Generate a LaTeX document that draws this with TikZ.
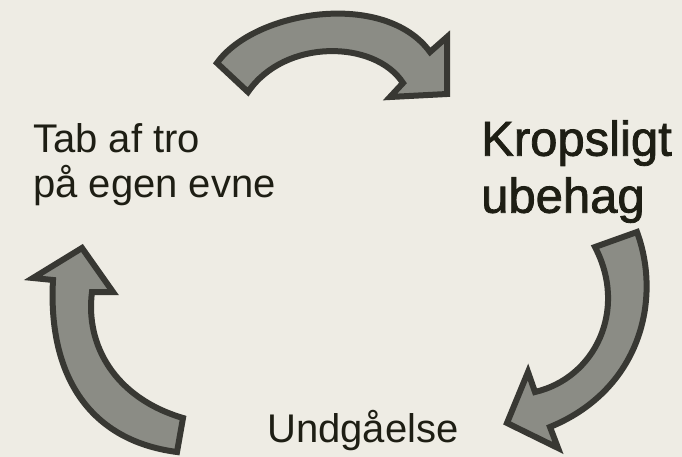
\documentclass[tikz,border=0pt]{standalone}
\usepackage{fontspec}
\setmainfont{Liberation Sans}
\newfontfamily\medfont[FakeBold=1.6]{Liberation Sans}
\definecolor{bgc}{HTML}{EEECE4}
\definecolor{arrfill}{HTML}{8B8C85}
\definecolor{arrline}{HTML}{383833}
\definecolor{txt}{HTML}{1E1E14}
\begin{document}
\begin{tikzpicture}[x=1pt,y=-1pt,
  bigarrow/.style={fill=arrfill,draw=arrline,line width=6pt,line join=miter,miter limit=10},
  lbl/.style={inner sep=0pt,text=txt,align=left}]
\fill[bgc] (0,0) rectangle (682,457);
\useasboundingbox (0,0) rectangle (682,457);
% top arrow
\draw[bigarrow] (217,63) .. controls (255,10) and (385,-10) .. (430,52)
  -- (447,37) -- (447,94) -- (390,97) -- (403,83)
  .. controls (375,40) and (285,38) .. (248,92) -- cycle;
% right arrow
\draw[bigarrow] (637,232) .. controls (662,300) and (640,390) .. (550,427)
  -- (558,448) -- (507,423) -- (528,372) -- (535,392)
  .. controls (595,378) and (628,310) .. (595,247) -- cycle;
% left arrow
\draw[bigarrow] (177,452) .. controls (85,440) and (48,370) .. (53,280)
  -- (33,278) -- (82,248) -- (113,292) -- (92,292)
  .. controls (85,345) and (115,398) .. (183,418) -- cycle;
% labels
\node[lbl,anchor=north west,font=\fontsize{40}{45}\selectfont] (tab) at (33,123) {Tab af tro\\på egen evne};
\node[lbl,anchor=north west,font=\medfont\fontsize{49}{57}\selectfont] (krop) at (481,120) {Kropsligt\\ubehag};
\node[lbl,anchor=base west,font=\fontsize{40}{45}\selectfont] (undg) at (267,442) {Undgåelse};
\end{tikzpicture}
\end{document}
